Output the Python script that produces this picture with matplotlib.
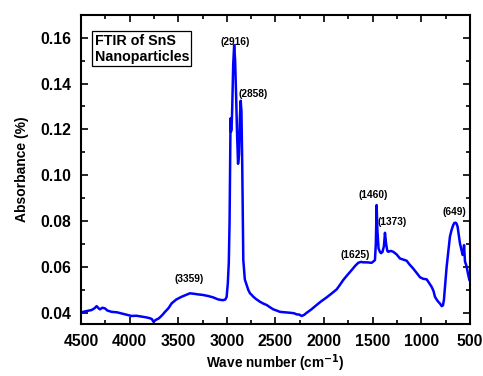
import numpy as np
import matplotlib
matplotlib.use("Agg")
import matplotlib.pyplot as plt
from matplotlib.ticker import MultipleLocator

# FTIR spectrum (wave number, absorbance)
wavenumber = [4500, 4470, 4425, 4390, 4360, 4339, 4320, 4305, 4280, 4253, 4230, 4185,
              4130, 4082, 4030, 3979, 3930, 3876, 3830, 3790, 3770, 3756, 3740, 3722,
              3705, 3688, 3660, 3636, 3600, 3568, 3520, 3465, 3420, 3379, 3340, 3294,
              3250, 3191, 3140, 3088, 3060, 3037, 3015, 3002, 2990, 2980, 2972, 2966,
              2962, 2958, 2952, 2945, 2935, 2925, 2915, 2905, 2895, 2885, 2875, 2866,
              2858, 2850, 2842, 2836, 2831, 2815, 2796, 2780, 2762, 2745, 2728, 2700,
              2659, 2625, 2591, 2560, 2523, 2490, 2454, 2400, 2351, 2310, 2282, 2255,
              2231, 2205, 2179, 2130, 2077, 2030, 1974, 1920, 1871, 1840, 1803, 1760,
              1717, 1680, 1649, 1620, 1597, 1560, 1511, 1490, 1477, 1468, 1460, 1452,
              1440, 1425, 1415, 1400, 1385, 1374, 1362, 1350, 1340, 1315, 1289, 1255,
              1220, 1185, 1151, 1120, 1086, 1050, 1014, 980, 945, 920, 894, 875, 860,
              843, 826, 808, 791, 778, 768, 755, 740, 722, 706, 690, 672, 660, 647,
              637, 627, 615, 603, 590, 575, 566, 561, 556, 551, 540, 534, 520, 506, 500]
absorbance = [0.0400, 0.0405, 0.0409, 0.0412, 0.0420, 0.0429, 0.0420, 0.0415, 0.0422, 0.0419,
              0.0410, 0.0404, 0.0402, 0.0397, 0.0392, 0.0386, 0.0387, 0.0383, 0.0380, 0.0376,
              0.0372, 0.0361, 0.0366, 0.0371, 0.0374, 0.0380, 0.0392, 0.0404, 0.0420, 0.0441,
              0.0458, 0.0470, 0.0478, 0.0485, 0.0483, 0.0480, 0.0478, 0.0473, 0.0467, 0.0458,
              0.0456, 0.0455, 0.0458, 0.0470, 0.0530, 0.0620, 0.0800, 0.1050, 0.1248, 0.1190,
              0.1200, 0.1290, 0.1480, 0.1568, 0.1500, 0.1350, 0.1180, 0.1050, 0.1090, 0.1250,
              0.1325, 0.1280, 0.1050, 0.0800, 0.0630, 0.0545, 0.0521, 0.0500, 0.0485, 0.0478,
              0.0470, 0.0460, 0.0448, 0.0440, 0.0434, 0.0425, 0.0415, 0.0410, 0.0404, 0.0402,
              0.0400, 0.0398, 0.0393, 0.0392, 0.0386, 0.0391, 0.0400, 0.0415, 0.0434, 0.0450,
              0.0467, 0.0485, 0.0502, 0.0520, 0.0543, 0.0565, 0.0586, 0.0605, 0.0618, 0.0622,
              0.0620, 0.0620, 0.0618, 0.0625, 0.0630, 0.0700, 0.0870, 0.0760, 0.0680, 0.0665,
              0.0660, 0.0665, 0.0690, 0.0749, 0.0700, 0.0670, 0.0666, 0.0670, 0.0666, 0.0655,
              0.0637, 0.0632, 0.0627, 0.0610, 0.0594, 0.0575, 0.0555, 0.0548, 0.0546, 0.0530,
              0.0513, 0.0495, 0.0470, 0.0458, 0.0448, 0.0440, 0.0429, 0.0432, 0.0455, 0.0520,
              0.0600, 0.0670, 0.0732, 0.0760, 0.0783, 0.0792, 0.0793, 0.0788, 0.0775, 0.0740,
              0.0703, 0.0680, 0.0652, 0.0660, 0.0695, 0.0660, 0.0623, 0.0610, 0.0600, 0.0570,
              0.0543, 0.0540]

peak_labels = ["(3359)", "(2916)", "(2858)", "(1625)", "(1460)", "(1373)", "(649)"]
label_x = [3389, 2916, 2731, 1683, 1498, 1305, 664]
label_y = [0.0546, 0.1580, 0.1353, 0.0652, 0.0914, 0.0794, 0.0838]

plt.rcParams['font.family'] = ['Liberation Sans', 'DejaVu Sans']
plt.rcParams['font.weight'] = 'bold'

fig = plt.figure(figsize=(4.83, 3.76), dpi=100)
ax = fig.add_axes([0.1677, 0.1383, 0.8053, 0.8217])

ax.plot(wavenumber, absorbance, color='#0000ff', linewidth=1.8)

for t, x, y in zip(peak_labels, label_x, label_y):
	ax.text(x, y, t, fontsize=7.3, fontweight='bold', ha='center', va='center')

ax.text(0.035, 0.94, "FTIR of SnS\nNanoparticles", transform=ax.transAxes,
	fontsize=10.3, fontweight='bold', ha='left', va='top', linespacing=1.25,
	bbox=dict(boxstyle='square,pad=0.15', facecolor='white', edgecolor='black', linewidth=0.9))

ax.set_xlim(4500, 500)
ax.set_ylim(0.0351, 0.1699)
ax.xaxis.set_major_locator(MultipleLocator(500))
ax.xaxis.set_minor_locator(MultipleLocator(250))
ax.yaxis.set_major_locator(MultipleLocator(0.02))
ax.yaxis.set_minor_locator(MultipleLocator(0.01))
ax.yaxis.set_major_formatter(matplotlib.ticker.FormatStrFormatter('%.2f'))

ax.tick_params(which='both', direction='in', top=True, right=True, width=1.2)
ax.tick_params(which='major', length=5, labelsize=11.3)
ax.tick_params(axis='y', which='major', pad=7)
ax.tick_params(axis='x', which='major', pad=7)
ax.tick_params(which='minor', length=3)
for lab in ax.get_xticklabels() + ax.get_yticklabels():
	lab.set_fontweight('bold')
for s in ax.spines.values():
	s.set_linewidth(1.5)

ax.set_xlabel('Wave number (cm$^{\\mathbf{-1}}$)', fontsize=9.8, fontweight='bold', labelpad=3)
ax.set_ylabel('Absorbance (%)', fontsize=10, fontweight='bold', labelpad=8)

fig.savefig('out.png', dpi=100)
